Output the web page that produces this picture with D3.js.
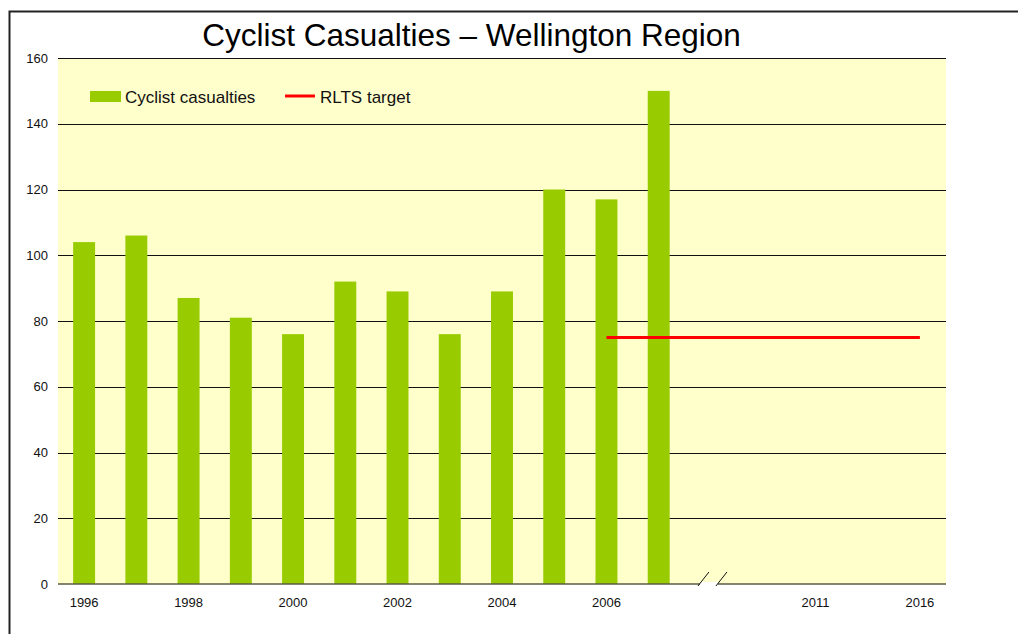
<!DOCTYPE html>
<html>
<head>
<meta charset="utf-8">
<script src="https://cdn.jsdelivr.net/npm/d3@7"></script>
<style>
  html, body { margin: 0; padding: 0; background: #fff; }
  svg { display: block; font-family: Arial, "Liberation Sans", sans-serif; }
</style>
</head>
<body>
<svg id="chart" width="1018" height="634"></svg>
<script>
// ---- data ----
const title = "Cyclist Casualties \u2013 Wellington Region";
const slotLabels = ["1996","1997","1998","1999","2000","2001","2002","2003","2004","2005","2006","2007","","2010","2011","2015","2016"];
const shownLabels = ["1996","1998","2000","2002","2004","2006","2011","2016"];
const casualtyYears = ["1996","1997","1998","1999","2000","2001","2002","2003","2004","2005","2006","2007"];
const casualties = [104,106,87,81,76,92,89,76,89,120,117,150];
const targetYears = ["2006","2016"];
const targetValues = [75,75];
const yTicks = [0,20,40,60,80,100,120,140,160];
const breakAfter = ""; // blank slot marks axis break
const seriesNames = ["Cyclist casualties","RLTS target"];

// ---- layout ----
const svg = d3.select("#chart");
const plot = {left: 58, top: 58, right: 946, bottom: 584};

// outer frame
svg.append("rect")
  .attr("x", 9.5).attr("y", 11.5).attr("width", 1040).attr("height", 660)
  .attr("fill", "none").attr("stroke", "#222").attr("stroke-width", 2);

const x = d3.scaleBand().domain(slotLabels)
  .range([plot.left, plot.right]).paddingInner(0.58).paddingOuter(0.29);
const y = d3.scaleLinear().domain([0,160]).range([plot.bottom, plot.top]);

// background
svg.append("rect")
  .attr("x", plot.left).attr("y", plot.top)
  .attr("width", plot.right - plot.left).attr("height", plot.bottom - plot.top)
  .attr("fill", "#FFFFCC");

// gridlines
svg.append("g").selectAll("line").data(yTicks.filter(d => d > 0)).join("line")
  .attr("x1", plot.left).attr("x2", plot.right)
  .attr("y1", d => Math.round(y(d)) + 0.5).attr("y2", d => Math.round(y(d)) + 0.5)
  .attr("stroke", "#111").attr("stroke-width", 1);

// bars
svg.append("g").selectAll("rect").data(casualties).join("rect")
  .attr("x", (d,i) => x(casualtyYears[i]))
  .attr("width", x.bandwidth())
  .attr("y", d => y(d))
  .attr("height", d => y(0) - y(d))
  .attr("fill", "#99CC00");

// x axis line
const xAxis = d3.axisBottom(x).tickSize(0).tickPadding(14)
  .tickFormat(d => shownLabels.includes(d) && d !== "" ? d : "");
const gx = svg.append("g").attr("transform", `translate(0,${y(0)})`).call(xAxis);
gx.select(".domain").attr("stroke", "#5b5b45").attr("stroke-width", 1.5)
  .attr("d", `M${plot.left},0H${plot.right}`);
gx.selectAll("text").attr("font-size", 13).attr("fill", "#111")
  .attr("font-family", "Arial, 'Liberation Sans', sans-serif");

// axis break marks
const bx = x(breakAfter) + x.bandwidth() / 2 + 2;
const brk = svg.append("g").attr("transform", `translate(${bx},${y(0)})`);
brk.append("rect").attr("x", -13).attr("y", -2).attr("width", 18).attr("height", 6).attr("fill", "#fff");
[-15, 3].forEach(dx => {
  brk.append("line").attr("x1", dx).attr("y1", 2).attr("x2", dx + 11).attr("y2", -12)
    .attr("stroke", "#111").attr("stroke-width", 1);
});

// y axis labels
const yAxis = d3.axisLeft(y).tickValues(yTicks).tickSize(0).tickPadding(10);
const gy = svg.append("g").attr("transform", `translate(${plot.left},0)`).call(yAxis);
gy.select(".domain").remove();
gy.selectAll("text").attr("font-size", 13).attr("fill", "#111")
  .attr("font-family", "Arial, 'Liberation Sans', sans-serif");

// target line
const line = d3.line().x(d => x(d.k) + x.bandwidth() / 2).y(d => y(d.v));
svg.append("path")
  .datum(targetYears.map((k,i) => ({k, v: targetValues[i]})))
  .attr("d", line).attr("fill", "none").attr("stroke", "#FF0000").attr("stroke-width", 3);

// title
svg.append("text").attr("x", 471.5).attr("y", 46).attr("text-anchor", "middle")
  .attr("font-size", 31.5).attr("fill", "#000").text(title);

// legend
const lg = svg.append("g");
lg.append("rect").attr("x", 90).attr("y", 91).attr("width", 31).attr("height", 11).attr("fill", "#99CC00");
lg.append("text").attr("x", 125).attr("y", 103).attr("font-size", 17).attr("fill", "#111").text(seriesNames[0]);
lg.append("line").attr("x1", 285).attr("x2", 315).attr("y1", 96).attr("y2", 96)
  .attr("stroke", "#FF0000").attr("stroke-width", 3);
lg.append("text").attr("x", 320).attr("y", 103).attr("font-size", 17).attr("fill", "#111").text(seriesNames[1]);
</script>
</body>
</html>
